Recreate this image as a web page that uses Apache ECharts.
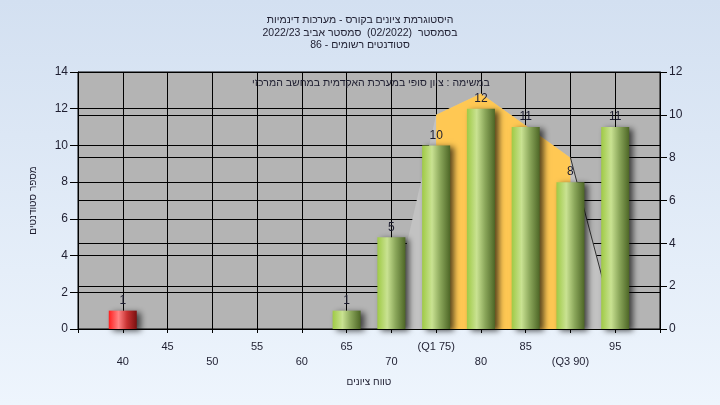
<!DOCTYPE html>
<html>
<head>
<meta charset="utf-8">
<script src="https://cdn.jsdelivr.net/npm/echarts@6/dist/echarts.min.js"></script>
<style>
html,body{margin:0;padding:0;width:720px;height:405px;overflow:hidden;}
#chart{width:720px;height:405px;}
</style>
</head>
<body>
<div id="chart"></div>
<script>
// ---- data ----
const titleLines = [
  'היסטוגרמת ציונים בקורס - מערכות דינמיות',
  'בסמסטר  (02/2022)  סמסטר אביב 2022/23',
  'סטודנטים רשומים - 86'
];
const subTitle = 'במשימה : ציון סופי במערכת האקדמית במחשב המרכזי';
const xAxisTitle = 'טווח ציונים';
const yAxisTitle = 'מספר סטודנטים';
const categories = [40, 45, 50, 55, 60, 65, 70, 75, 80, 85, 90, 95];
const tickLabels = ['40', '45', '50', '55', '60', '65', '70', '(Q1 75)', '80', '85', '(Q3 90)', '95'];
const barValues = [1, 0, 0, 0, 0, 1, 5, 10, 12, 11, 8, 11];
const failLimit = 55;
const curveX = [70, 75, 80, 85, 90, 95];
const curveY = [0.8, 10, 11, 9.5, 8, 0.1];
const q1 = 75, q3 = 90;

// ---- build ----
const FONT = '"Liberation Sans", Arial, "DejaVu Sans", sans-serif';
const TXT = '#1e1e30';

function greenGrad() {
  return new echarts.graphic.LinearGradient(0, 0, 1, 0, [
    {offset: 0, color: '#9fca45'},
    {offset: 0.35, color: '#c9e292'},
    {offset: 0.65, color: '#8aa65a'},
    {offset: 1, color: '#4d6626'}
  ]);
}
function redGrad() {
  return new echarts.graphic.LinearGradient(0, 0, 1, 0, [
    {offset: 0, color: '#ff1e1e'},
    {offset: 0.35, color: '#ff8484'},
    {offset: 0.65, color: '#c83232'},
    {offset: 1, color: '#7a1010'}
  ]);
}

const barData = [];
categories.forEach((c, i) => {
  if (barValues[i] > 0) {
    barData.push({
      value: [c, barValues[i]],
      itemStyle: {color: c < failLimit ? redGrad() : greenGrad()}
    });
  }
});

const curveData = curveX.map((x, i) => [x, curveY[i]]);
const iqrData = curveData.filter(p => p[0] >= q1 && p[0] <= q3);
const tailData = curveData.filter(p => p[0] >= q3);

const labelMap = {};
categories.forEach((c, i) => { labelMap[c] = {text: tickLabels[i], row: i % 2}; });

const chart = echarts.init(document.getElementById('chart'), null, {renderer: 'canvas'});
const option = {
  backgroundColor: new echarts.graphic.LinearGradient(0, 0, 0, 1, [
    {offset: 0, color: '#d3e0f1'},
    {offset: 1, color: '#eef5fd'}
  ]),
  animation: false,
  textStyle: {fontFamily: FONT},
  title: {
    text: titleLines.join('\n'),
    left: 'center',
    top: 9,
    textStyle: {fontSize: 10.5, fontWeight: 'normal', lineHeight: 12.5, color: TXT, fontFamily: FONT}
  },
  graphic: [{
    type: 'text',
    left: 252,
    top: 78,
    z: 100,
    style: {text: subTitle, font: '10.5px ' + FONT, fill: TXT}
  }],
  grid: {
    left: 78, right: 60, top: 72, bottom: 76,
    show: true, backgroundColor: '#b4b4b4', borderColor: '#000', borderWidth: 1
  },
  xAxis: {
    type: 'value', min: 35, max: 100, interval: 5,
    name: xAxisTitle, nameLocation: 'middle', nameGap: 48,
    nameTextStyle: {fontSize: 10, color: TXT, fontFamily: FONT},
    axisLine: {show: true, onZero: false, lineStyle: {color: '#000', width: 1}},
    axisTick: {show: true, length: 4, lineStyle: {color: '#000'}},
    splitLine: {show: true, lineStyle: {color: '#000', width: 1}},
    axisLabel: {
      margin: 10, fontSize: 11, color: TXT, lineHeight: 15, fontFamily: FONT,
      formatter: function (v) {
        const m = labelMap[v];
        if (!m) return '';
        return m.row === 0 ? '\n' + m.text : m.text;
      }
    }
  },
  yAxis: [{
    type: 'value', min: 0, max: 14, interval: 2, position: 'left',
    name: yAxisTitle, nameLocation: 'middle', nameGap: 40, nameRotate: 90,
    nameTextStyle: {fontSize: 10, color: TXT, fontFamily: FONT},
    axisLine: {show: true, lineStyle: {color: '#000'}},
    axisTick: {show: true, length: 8, lineStyle: {color: '#000'}},
    splitLine: {show: true, lineStyle: {color: '#000', width: 1}},
    axisLabel: {margin: 10, fontSize: 12, color: TXT, fontFamily: FONT}
  }, {
    type: 'value', min: 0, max: 12, interval: 2, position: 'right',
    axisLine: {show: true, lineStyle: {color: '#000'}},
    axisTick: {show: true, length: 7, lineStyle: {color: '#000'}},
    splitLine: {show: true, lineStyle: {color: '#000', width: 1}},
    axisLabel: {margin: 9, fontSize: 12, color: TXT, fontFamily: FONT}
  }],
  series: [{
    type: 'line', yAxisIndex: 1, data: curveData, symbol: 'none',
    lineStyle: {width: 0, opacity: 0},
    areaStyle: {color: '#c2c2c2', opacity: 1}, z: 1
  }, {
    type: 'line', yAxisIndex: 1, data: iqrData, symbol: 'none',
    lineStyle: {width: 0, opacity: 0},
    areaStyle: {color: '#ffc853', opacity: 1}, z: 2
  }, {
    type: 'line', yAxisIndex: 1, data: tailData, symbol: 'none',
    lineStyle: {width: 1, color: '#303030'}, z: 3
  }, {
    type: 'bar', yAxisIndex: 0, data: barData, barWidth: 28, z: 5,
    itemStyle: {shadowBlur: 6, shadowOffsetX: 4, shadowOffsetY: 2, shadowColor: 'rgba(0,0,0,0.65)'},
    label: {show: true, position: 'top', distance: 4, fontSize: 12, color: TXT, fontFamily: FONT,
      formatter: p => p.value[1]}
  }]
};
chart.setOption(option);
</script>
</body>
</html>
